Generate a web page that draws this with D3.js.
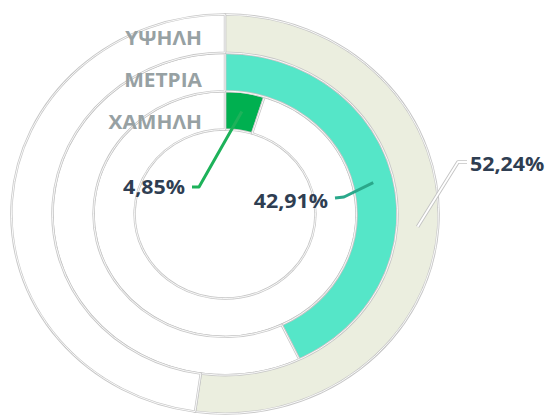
<!DOCTYPE html>
<html><head><meta charset="utf-8">
<script src="https://cdn.jsdelivr.net/npm/d3@7"></script>
<style>body{margin:0;background:#fff}svg{display:block}</style></head>
<body>
<svg id="c" width="546" height="415"></svg>
<script>
// Data (inner ring → outer ring)
const categories = ["ΧΑΜΗΛΗ", "ΜΕΤΡΙΑ", "ΥΨΗΛΗ"];
const values = [4.85, 42.91, 52.24];
const valueLabels = ["4,85%", "42,91%", "52,24%"];
const colors = ["#00B050", "#55E6C8", "#EBEEDF"];
const leaderColors = ["#1DB25A", "#2AA88B", "#FFFFFF"];

// Layout
const cx = 225, cy = 214, sx = 1.07;
const svg = d3.select("#c");
const rBand = d3.scaleBand().domain(categories).range([84.5, 199.6]).padding(0);
const ang = d3.scaleLinear().domain([0, 100]).range([0, 2 * Math.PI]);

const g = svg.append("g").attr("transform", `translate(${cx},${cy}) scale(${sx},1)`);
const arc = d3.arc();

categories.forEach((c, i) => {
  const r0 = rBand(c), r1 = r0 + rBand.bandwidth();
  const parts = [
    {startAngle: ang(0), endAngle: ang(values[i]), fill: colors[i]},
    {startAngle: ang(values[i]), endAngle: ang(100), fill: "#FFFFFF"}
  ];
  parts.forEach(p => {
    const d = arc({innerRadius: r0, outerRadius: r1, startAngle: p.startAngle, endAngle: p.endAngle});
    g.append("path").attr("d", d).attr("fill", p.fill)
      .attr("stroke", "#c6c6c6").attr("stroke-width", 2.4).attr("vector-effect", "non-scaling-stroke");
    g.append("path").attr("d", d).attr("fill", "none")
      .attr("stroke", "#ffffff").attr("stroke-width", 0.9).attr("vector-effect", "non-scaling-stroke");
  });
});

// Category labels at the top of each ring
const catBase = {"ΧΑΜΗΛΗ": 129, "ΜΕΤΡΙΑ": 87, "ΥΨΗΛΗ": 45};
categories.forEach(c => {
  svg.append("g").attr("transform", `translate(202,${catBase[c]}) scale(${sx},1)`)
    .append("text").attr("text-anchor", "end")
    .attr("font-family", "'Open Sans', sans-serif").attr("font-weight", 700)
    .attr("font-size", 19.5).attr("fill", "#97A1A3").text(c);
});

// Value labels with leader lines
const labelLayout = [
  {tx: 185, ty: 194, anchor: "end", pts: [[192, 187], [199, 187]]},
  {tx: 328, ty: 208, anchor: "end", pts: [[335, 198], [344, 197]]},
  {tx: 470, ty: 171, anchor: "start", pts: [[467, 162], [458, 162]]}
];
categories.forEach((c, i) => {
  const r0 = rBand(c), r1 = r0 + rBand.bandwidth();
  const [ax, ay] = arc.centroid({innerRadius: r0, outerRadius: r1, startAngle: ang(0), endAngle: ang(values[i])});
  const L = labelLayout[i];
  const pts = L.pts.concat([[cx + ax * sx, cy + ay]]);
  const line = d3.line()(pts);
  if (i === 2) {
    svg.append("path").attr("d", line).attr("fill", "none").attr("stroke", "#c4c4c4").attr("stroke-width", 3.6).attr("stroke-linejoin", "round");
    svg.append("path").attr("d", line).attr("fill", "none").attr("stroke", "#ffffff").attr("stroke-width", 1.8).attr("stroke-linejoin", "round");
  } else {
    svg.append("path").attr("d", line).attr("fill", "none").attr("stroke", leaderColors[i]).attr("stroke-width", 3).attr("stroke-linejoin", "round");
  }
  svg.append("g").attr("transform", `translate(${L.tx},${L.ty}) scale(${sx},1)`)
    .append("text").attr("text-anchor", L.anchor)
    .attr("font-family", "'Open Sans', sans-serif").attr("font-weight", 700)
    .attr("font-size", 20).attr("fill", "#2F3E52").text(valueLabels[i]);
});
</script>
</body></html>
